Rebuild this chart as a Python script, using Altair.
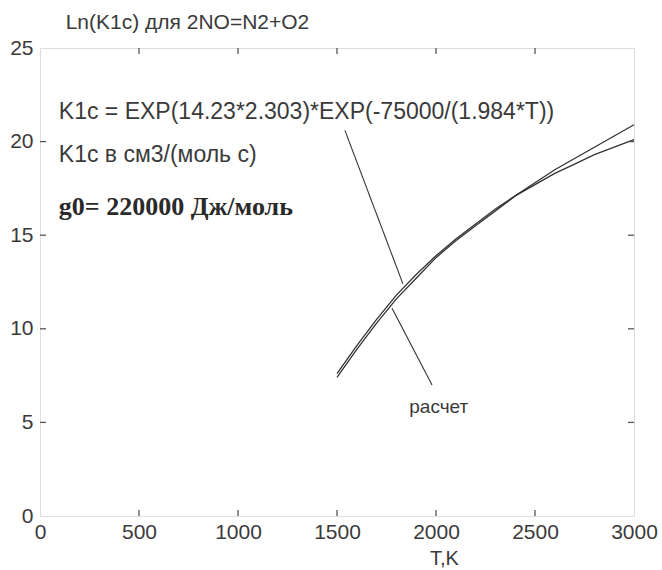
import altair as alt
import pandas as pd

# ---- data ----
T_vals = [1500, 1600, 1700, 1800, 1900, 2000, 2100, 2200, 2300, 2400, 2500, 2600, 2700, 2800, 2900, 3000]
lnK_formula = [7.6, 9.1, 10.5, 11.8, 12.9, 13.9, 14.8, 15.6, 16.4, 17.1, 17.7, 18.3, 18.8, 19.3, 19.7, 20.1]
lnK_calc = [7.4, 8.9, 10.3, 11.6, 12.7, 13.8, 14.7, 15.5, 16.3, 17.1, 17.8, 18.5, 19.1, 19.7, 20.3, 20.9]

x_ticks = [0, 500, 1000, 1500, 2000, 2500, 3000]
y_ticks = [0, 5, 10, 15, 20, 25]

# annotation pointers (data coords)
ptr_x = [1540, 1778]
ptr_y = [20.6, 11.1]
ptr_x2 = [1833, 1980]
ptr_y2 = [12.4, 7.0]

notes = ["K1c =  EXP(14.23*2.303)*EXP(-75000/(1.984*T))", "K1c в см3/(моль с)"]
notes_x = [95, 95]
notes_y = [21.6, 19.3]
bold_note = "g0= 220000 Дж/моль"
bold_x, bold_y = 95, 16.5
calc_label = "расчет"
calc_x, calc_y = 1865, 5.8

W, H = 594, 468
FONT = "Liberation Sans"
TXT = "#3a3a3a"

rows = []
for t, a in zip(T_vals, lnK_formula):
    rows.append({"T": t, "v": a, "s": "formula"})
for t, b in zip(T_vals, lnK_calc):
    rows.append({"T": t, "v": b, "s": "calc"})
df = pd.DataFrame(rows)

xs = alt.Scale(domain=[0, 3000], nice=False, zero=False)
ys = alt.Scale(domain=[0, 25], nice=False, zero=False)

xax = alt.Axis(values=x_ticks, format="d", ticks=False, domain=False, grid=False,
               labelFont=FONT, labelFontSize=21, labelColor=TXT, labelPadding=5,
               title="T,K", titleFont=FONT, titleFontSize=20, titleFontWeight="normal",
               titleColor=TXT, titleX=404, titleY=42, titleAlign="center",
               titleBaseline="middle", labelFlush=False)
yax = alt.Axis(values=y_ticks, format="d", ticks=False, domain=False, grid=False,
               labelFont=FONT, labelFontSize=21, labelColor=TXT, labelPadding=7, title=None)

lines = alt.Chart(df).mark_line(color="#333333", strokeWidth=1.3).encode(
    x=alt.X("T:Q", scale=xs, axis=xax),
    y=alt.Y("v:Q", scale=ys, axis=yax),
    detail="s:N",
)

ptr_df = pd.DataFrame({"x": ptr_x, "y": ptr_y, "x2": ptr_x2, "y2": ptr_y2})
ptrs = alt.Chart(ptr_df).mark_rule(color="#333333", strokeWidth=1.1).encode(
    x=alt.X("x:Q", scale=xs), y=alt.Y("y:Q", scale=ys), x2="x2:Q", y2="y2:Q")

notes_df = pd.DataFrame({"x": notes_x, "y": notes_y, "t": notes})
notes_m = alt.Chart(notes_df).mark_text(align="left", baseline="middle", font=FONT,
                                        fontSize=23, color=TXT).encode(
    x=alt.X("x:Q", scale=xs), y=alt.Y("y:Q", scale=ys), text="t:N")

bold_df = pd.DataFrame({"x": [bold_x], "y": [bold_y], "t": [bold_note]})
bold_m = alt.Chart(bold_df).mark_text(align="left", baseline="middle", font="Liberation Serif",
                                      fontSize=26, fontWeight="bold", color="#2a2a2a").encode(
    x=alt.X("x:Q", scale=xs), y=alt.Y("y:Q", scale=ys), text="t:N")

calc_df = pd.DataFrame({"x": [calc_x], "y": [calc_y], "t": [calc_label]})
calc_m = alt.Chart(calc_df).mark_text(align="left", baseline="middle", font=FONT,
                                      fontSize=19, color=TXT).encode(
    x=alt.X("x:Q", scale=xs), y=alt.Y("y:Q", scale=ys), text="t:N")

# inward ticks on all four sides
xt_df = pd.DataFrame({"x": x_ticks[1:-1]})
yt_df = pd.DataFrame({"y": y_ticks[1:-1]})
tick_style = dict(color="#555555", strokeWidth=1.3)
t_bottom = alt.Chart(xt_df).mark_rule(**tick_style).encode(
    x=alt.X("x:Q", scale=xs), y=alt.value(H), y2=alt.value(H - 6))
t_top = alt.Chart(xt_df).mark_rule(**tick_style).encode(
    x=alt.X("x:Q", scale=xs), y=alt.value(0), y2=alt.value(6))
t_left = alt.Chart(yt_df).mark_rule(**tick_style).encode(
    y=alt.Y("y:Q", scale=ys), x=alt.value(0), x2=alt.value(6))
t_right = alt.Chart(yt_df).mark_rule(**tick_style).encode(
    y=alt.Y("y:Q", scale=ys), x=alt.value(W), x2=alt.value(W - 6))

chart = alt.layer(lines, ptrs, notes_m, bold_m, calc_m, t_bottom, t_top, t_left, t_right).properties(
    width=W, height=H,
    autosize=alt.AutoSizeParams(type="none"),
    padding={"left": 40, "top": 48, "right": 28, "bottom": 54},
    title=alt.TitleParams("Ln(K1c) для 2NO=N2+O2", anchor="start", dx=56, offset=4,
                          font=FONT, fontSize=21, fontWeight="normal", color=TXT),
).configure_view(stroke="#555555", strokeWidth=1.5).configure(background="white")

chart.save("out.html", embed_options={"renderer": "svg", "actions": False})
